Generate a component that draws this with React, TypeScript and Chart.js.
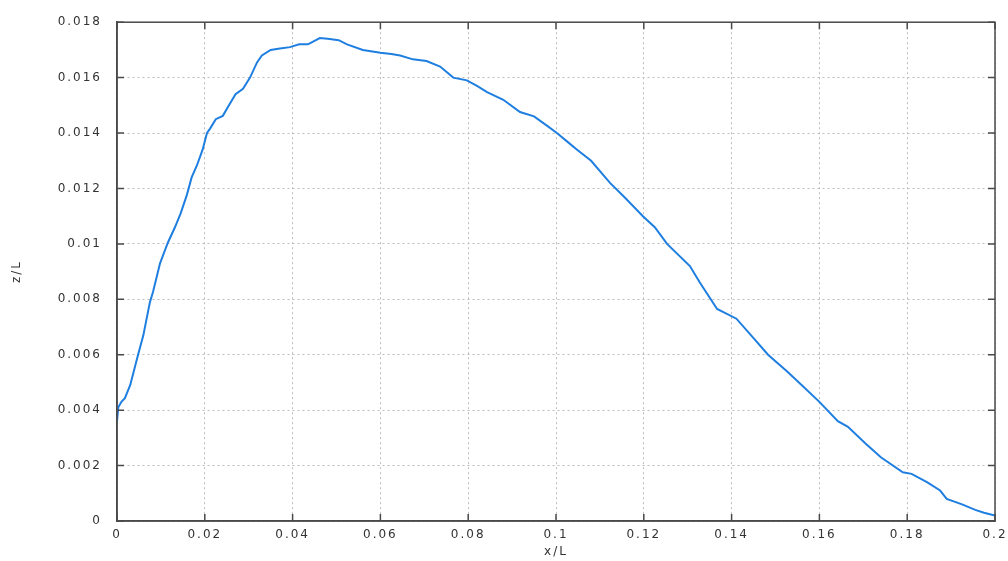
import React, { useEffect, useRef } from "react";
import { Chart, registerables } from "chart.js";

Chart.register(...registerables);

const xValues = [
  0, 0.0003, 0.001, 0.0018, 0.003, 0.0048, 0.006, 0.0075, 0.0082, 0.0098,
  0.0116, 0.0132, 0.0145, 0.0159, 0.017, 0.0182, 0.0195, 0.0205, 0.0212, 0.0225,
  0.0241, 0.0255, 0.027, 0.0287, 0.0303, 0.0319, 0.033, 0.035, 0.0371, 0.0394,
  0.0415, 0.0435, 0.0462, 0.048, 0.0505, 0.0524, 0.056, 0.06, 0.0625, 0.0645,
  0.0674, 0.0705, 0.0736, 0.0766, 0.0797, 0.082, 0.0843, 0.088, 0.0918, 0.095,
  0.098, 0.1002, 0.1025, 0.1048, 0.108, 0.1123, 0.1155, 0.1198, 0.1225, 0.1253,
  0.1305, 0.1328, 0.1367, 0.1411, 0.145, 0.1483, 0.1526, 0.156, 0.16, 0.1642,
  0.1665, 0.1705, 0.174, 0.179, 0.181, 0.1845, 0.1875, 0.189, 0.1925, 0.1955,
  0.1975, 0.2,
];

const zValues = [
  0.0036, 0.0041, 0.0043, 0.00443, 0.0049, 0.006, 0.0067, 0.0079, 0.00826, 0.0093,
  0.01005, 0.0106, 0.0111, 0.01176, 0.0124, 0.01283, 0.0134, 0.014, 0.01416, 0.0145,
  0.01462, 0.015, 0.0154, 0.0156, 0.016, 0.01655, 0.0168, 0.017, 0.01705, 0.0171,
  0.0172, 0.0172, 0.01743, 0.0174, 0.01735, 0.0172, 0.017, 0.0169, 0.01685, 0.0168,
  0.01666, 0.0166, 0.0164, 0.016, 0.0159, 0.0157, 0.01548, 0.0152, 0.01476, 0.0146,
  0.01426, 0.014, 0.0137, 0.0134, 0.013, 0.0122, 0.0117, 0.011, 0.0106, 0.01,
  0.0092, 0.0086, 0.00765, 0.0073, 0.0066, 0.006, 0.0054, 0.0049, 0.0043, 0.0036,
  0.0034, 0.0028, 0.0023, 0.00176, 0.0017, 0.0014, 0.0011, 0.0008, 0.0006, 0.0004,
  0.0003, 0.0002,
];

const xAxisTitle = "x/L";
const yAxisTitle = "z/L";

const FONT = "'DejaVu Sans', sans-serif";
const FRAME = "#4a4a4a";

const framePlugin = {
  id: "frameBox",
  beforeDraw(chart: any) {
    try {
      (chart.ctx as any).letterSpacing = "2px";
    } catch (e) {}
  },
  afterDatasetsDraw(chart: any) {
    const ctx = chart.ctx;
    const area = chart.chartArea;
    const left = area.left;
    const right = area.right;
    const top = area.top;
    const bottom = area.bottom;
    const xs = chart.scales.x;
    const ys = chart.scales.y;
    ctx.save();
    ctx.setLineDash([]);
    ctx.strokeStyle = FRAME;
    ctx.lineWidth = 1.5;
    ctx.strokeRect(left, top, right - left, bottom - top);
    const tl = 7;
    ctx.beginPath();
    for (const t of xs.ticks) {
      const p = xs.getPixelForValue(t.value);
      ctx.moveTo(p, bottom);
      ctx.lineTo(p, bottom - tl);
      ctx.moveTo(p, top);
      ctx.lineTo(p, top + tl);
    }
    for (const t of ys.ticks) {
      const p = ys.getPixelForValue(t.value);
      ctx.moveTo(left, p);
      ctx.lineTo(left + tl, p);
      ctx.moveTo(right, p);
      ctx.lineTo(right - tl, p);
    }
    ctx.stroke();
    ctx.restore();
  },
};

export default function App() {
  const ref = useRef<HTMLCanvasElement | null>(null);
  useEffect(() => {
    if (!ref.current) return;
    const points = xValues.map((x, i) => ({ x, y: zValues[i] }));
    const chart = new Chart(ref.current, {
      type: "line",
      data: {
        datasets: [
          {
            data: points,
            borderColor: "#1f7fe0",
            borderWidth: 2,
            pointRadius: 0,
            tension: 0,
            fill: false,
          },
        ],
      },
      options: {
        animation: false,
        responsive: true,
        maintainAspectRatio: false,
        layout: { padding: { top: 17, right: 13, left: 0, bottom: 0 } },
        plugins: { legend: { display: false }, tooltip: { enabled: false } },
        scales: {
          x: {
            type: "linear",
            min: 0,
            max: 0.2,
            ticks: {
              stepSize: 0.02,
              color: "#333",
              padding: 7,
              maxRotation: 0,
              font: { family: FONT, size: 12 },
              callback: (v: any) => String(Number(Number(v).toFixed(2))),
            },
            grid: { color: "#bdbdbd", lineWidth: 1, drawTicks: false },
            border: { display: true, color: FRAME, width: 1.5, dash: [2, 3] },
            title: {
              display: true,
              text: xAxisTitle,
              color: "#333",
              font: { family: FONT, size: 12 },
              padding: { top: 0, bottom: 2 },
            },
            afterFit: (s: any) => {
              s.height = 40;
              s.paddingLeft = 0;
              s.paddingRight = 0;
            },
          },
          y: {
            type: "linear",
            min: 0,
            max: 0.018,
            ticks: {
              stepSize: 0.002,
              color: "#333",
              padding: 15,
              font: { family: FONT, size: 12 },
              callback: (v: any) => String(Number(Number(v).toFixed(3))),
            },
            grid: { color: "#bdbdbd", lineWidth: 1, drawTicks: false },
            border: { display: true, color: FRAME, width: 1.5, dash: [2, 3] },
            title: {
              display: true,
              text: yAxisTitle,
              color: "#333",
              font: { family: FONT, size: 12 },
              padding: { top: 10, bottom: 0 },
            },
            afterFit: (s: any) => {
              s.width = 117;
            },
          },
        },
      },
      plugins: [framePlugin],
    });
    return () => chart.destroy();
  }, []);
  return (
    <div style={{ position: "fixed", left: 0, top: 0, width: 1008, height: 561, background: "#fff" }}>
      <canvas ref={ref} />
    </div>
  );
}
